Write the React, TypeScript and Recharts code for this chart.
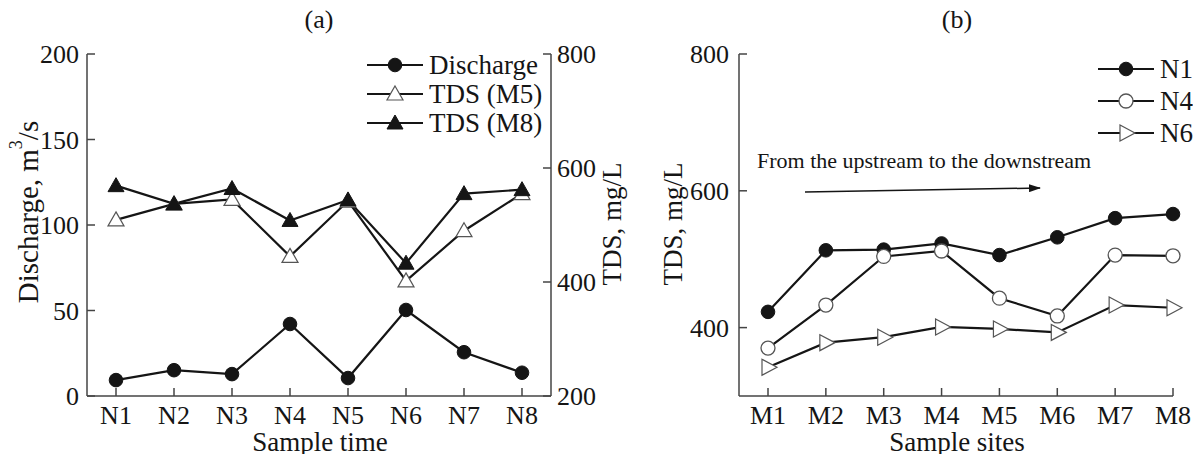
import React from 'react';
import { LineChart, Line, XAxis, YAxis } from 'recharts';

// (a) sampling time series
const sampleTimes = ['N1', 'N2', 'N3', 'N4', 'N5', 'N6', 'N7', 'N8'];
const discharge = [9.3, 15.1, 12.8, 42.1, 10.5, 50.3, 25.6, 13.6];
const tdsM5 = [509, 537, 545, 445, 542, 402, 490, 555];
const tdsM8 = [569, 537, 564, 508, 544, 433, 555, 562];
const dischargeTicks = [0, 50, 100, 150, 200];
const tdsTicksA = [200, 400, 600, 800];

// (b) sampling sites
const sampleSites = ['M1', 'M2', 'M3', 'M4', 'M5', 'M6', 'M7', 'M8'];
const tdsN1 = [423, 513, 514, 523, 506, 532, 560, 566];
const tdsN4 = [370, 433, 504, 512, 443, 417, 506, 505];
const tdsN6 = [342, 378, 386, 401, 398, 393, 433, 429];
const tdsTicksB = [400, 600, 800];

const dataA = sampleTimes.map((t, i) => ({ t, discharge: discharge[i], m5: tdsM5[i], m8: tdsM8[i] }));
const dataB = sampleSites.map((s, i) => ({ s, n1: tdsN1[i], n4: tdsN4[i], n6: tdsN6[i] }));

const FONT = '"Liberation Serif", "DejaVu Serif", serif';
const INK = '#151515';
const AXIS = '#444';

const tickStyle = { fontFamily: FONT, fontSize: 26, fill: INK };

type Shape = 'circle' | 'openCircle' | 'tri' | 'openTri' | 'rightTri';

const marker = (shape: Shape, cx: number, cy: number, key?: string) => {
  switch (shape) {
    case 'circle':
      return <circle key={key} cx={cx} cy={cy} r={6.8} fill={INK} stroke={INK} strokeWidth={1} />;
    case 'openCircle':
      return <circle key={key} cx={cx} cy={cy} r={7} fill="#fff" stroke="#555" strokeWidth={1.3} />;
    case 'tri':
      return (
        <path key={key} d={`M${cx},${cy - 8} L${cx + 8},${cy + 6} L${cx - 8},${cy + 6} Z`} fill={INK} stroke={INK} strokeWidth={1} />
      );
    case 'openTri':
      return (
        <path key={key} d={`M${cx},${cy - 8} L${cx + 8},${cy + 6} L${cx - 8},${cy + 6} Z`} fill="#fff" stroke="#555" strokeWidth={1.2} />
      );
    case 'rightTri':
    default:
      return (
        <path key={key} d={`M${cx + 9},${cy} L${cx - 6},${cy - 8} L${cx - 6},${cy + 8} Z`} fill="#fff" stroke="#555" strokeWidth={1.2} />
      );
  }
};

const dotFor = (shape: Shape) => (props: any) => {
  const { cx, cy, index } = props;
  if (cx == null || cy == null) return <g key={`e-${shape}-${index}`} />;
  return marker(shape, cx, cy, `${shape}-${index}`);
};

const LegendRow = ({ x, y, shape, label }: { x: number; y: number; shape: Shape; label: string }) => (
  <g>
    <line x1={x} y1={y} x2={x + 56} y2={y} stroke={INK} strokeWidth={2.2} />
    {marker(shape, x + 28, y)}
    <text x={x + 62} y={y} dominantBaseline="central" fontFamily={FONT} fontSize={27} fill={INK}>
      {label}
    </text>
  </g>
);

const App = () => {
  return (
    <div style={{ position: 'absolute', left: 0, top: 0, width: 1193, height: 454, background: '#fff', overflow: 'hidden' }}>
      {/* chart (a) */}
      <div style={{ position: 'absolute', left: 0, top: 0 }}>
        <LineChart width={600} height={454} data={dataA} margin={{ top: 54, right: 0, bottom: 0, left: 0 }}>
          <XAxis
            dataKey="t"
            interval={0}
            height={58}
            padding={{ left: 29, right: 29 }}
            tick={tickStyle}
            tickSize={-8}
            tickMargin={18}
            stroke={AXIS}
            strokeWidth={1.5}
          />
          <YAxis
            yAxisId="left"
            width={87}
            domain={[0, 200]}
            ticks={dischargeTicks}
            tick={tickStyle}
            tickSize={-8}
            tickMargin={16}
            stroke={AXIS}
            strokeWidth={1.5}
          />
          <YAxis
            yAxisId="right"
            orientation="right"
            width={49}
            domain={[200, 800]}
            ticks={tdsTicksA}
            tick={tickStyle}
            tickSize={-8}
            tickMargin={14}
            stroke={AXIS}
            strokeWidth={1.5}
          />
          <Line yAxisId="left" dataKey="discharge" stroke={INK} strokeWidth={2.2} dot={dotFor('circle')} activeDot={false} isAnimationActive={false} />
          <Line yAxisId="right" dataKey="m5" stroke={INK} strokeWidth={2.2} dot={dotFor('openTri')} activeDot={false} isAnimationActive={false} />
          <Line yAxisId="right" dataKey="m8" stroke={INK} strokeWidth={2.2} dot={dotFor('tri')} activeDot={false} isAnimationActive={false} />
        </LineChart>
      </div>

      {/* chart (b) */}
      <div style={{ position: 'absolute', left: 600, top: 0 }}>
        <LineChart width={593} height={454} data={dataB} margin={{ top: 54, right: 20, bottom: 0, left: 0 }}>
          <XAxis
            dataKey="s"
            interval={0}
            height={58}
            padding={{ left: 29, right: 0 }}
            tick={tickStyle}
            tickSize={-8}
            tickMargin={18}
            stroke={AXIS}
            strokeWidth={1.5}
          />
          <YAxis
            width={139}
            domain={[300, 800]}
            ticks={tdsTicksB}
            tick={tickStyle}
            tickSize={-8}
            tickMargin={18}
            stroke={AXIS}
            strokeWidth={1.5}
          />
          <Line dataKey="n1" stroke={INK} strokeWidth={2.2} dot={dotFor('circle')} activeDot={false} isAnimationActive={false} />
          <Line dataKey="n4" stroke={INK} strokeWidth={2.2} dot={dotFor('openCircle')} activeDot={false} isAnimationActive={false} />
          <Line dataKey="n6" stroke={INK} strokeWidth={2.2} dot={dotFor('rightTri')} activeDot={false} isAnimationActive={false} />
        </LineChart>
      </div>

      {/* titles, axis labels, legends, annotation */}
      <svg width={1193} height={454} style={{ position: 'absolute', left: 0, top: 0, pointerEvents: 'none' }}>
        <defs>
          <marker id="arrowHead" markerWidth="12" markerHeight="8" refX="11" refY="4" orient="auto" markerUnits="userSpaceOnUse">
            <path d="M0,0 L12,4 L0,8 Z" fill={INK} />
          </marker>
        </defs>
        <g fontFamily={FONT} fill={INK}>
          <text x={319} y={28} textAnchor="middle" fontSize={26}>(a)</text>
          <text x={957} y={28} textAnchor="middle" fontSize={26}>(b)</text>
          <text x={320} y={451} textAnchor="middle" fontSize={27}>Sample time</text>
          <text x={957} y={451} textAnchor="middle" fontSize={27}>Sample sites</text>
          <text transform="translate(28,212) rotate(-90)" textAnchor="middle" dominantBaseline="central" fontSize={29}>
            Discharge, m<tspan dy={-12} fontSize={18}>3</tspan><tspan dy={12}>/s</tspan>
          </text>
          <text transform="translate(612,224) rotate(-90)" textAnchor="middle" dominantBaseline="central" fontSize={27}>
            TDS, mg/L
          </text>
          <text transform="translate(673,224) rotate(-90)" textAnchor="middle" dominantBaseline="central" fontSize={27}>
            TDS, mg/L
          </text>
          <text x={757} y={168} fontSize={22}>From the upstream to the downstream</text>
        </g>
        <line x1={805} y1={192} x2={1040} y2={188} stroke={INK} strokeWidth={1.5} markerEnd="url(#arrowHead)" />

        <LegendRow x={367} y={65} shape="circle" label="Discharge" />
        <LegendRow x={367} y={94} shape="openTri" label="TDS (M5)" />
        <LegendRow x={367} y={123} shape="tri" label="TDS (M8)" />

        <LegendRow x={1098} y={69} shape="circle" label="N1" />
        <LegendRow x={1098} y={101} shape="openCircle" label="N4" />
        <LegendRow x={1098} y={133} shape="rightTri" label="N6" />
      </svg>
    </div>
  );
};

export default App;
